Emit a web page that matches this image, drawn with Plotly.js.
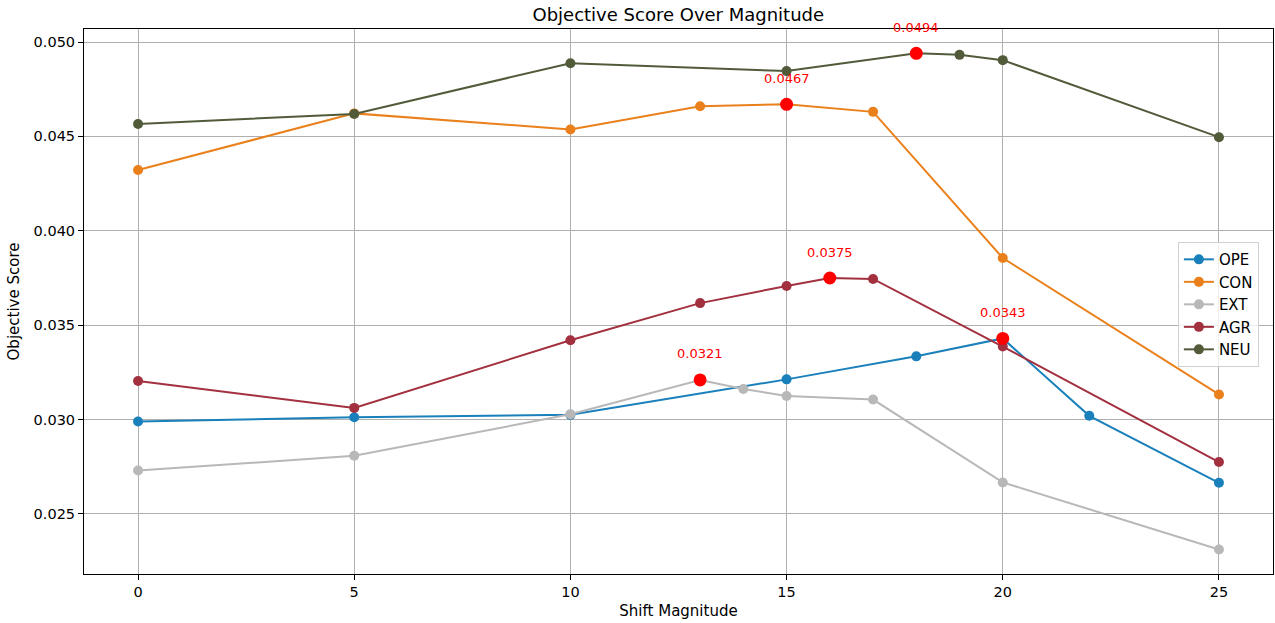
<!DOCTYPE html>
<html>
<head>
<meta charset="utf-8">
<script src="https://cdn.plot.ly/plotly-3.0.1.min.js"></script>
<style>html,body{margin:0;padding:0;background:#fff;}#chart{width:1275px;height:623px;}</style>
</head>
<body>
<div id="chart"></div>
<script>
// Data
const seriesNames = ["OPE", "CON", "EXT", "AGR", "NEU"];
const opeX = [0, 5, 10, 15, 18, 20, 22, 25];
const opeY = [0.02990, 0.03012, 0.03025, 0.03213, 0.03335, 0.03430, 0.03020, 0.02665];
const conX = [0, 5, 10, 13, 15, 17, 20, 25];
const conY = [0.04322, 0.04622, 0.04537, 0.04660, 0.04670, 0.04630, 0.03856, 0.03133];
const extX = [0, 5, 10, 13, 14, 15, 17, 20, 25];
const extY = [0.02730, 0.02808, 0.03028, 0.03210, 0.03162, 0.03125, 0.03106, 0.02667, 0.02312];
const agrX = [0, 5, 10, 13, 15, 16, 17, 20, 25];
const agrY = [0.03204, 0.03062, 0.03420, 0.03617, 0.03708, 0.03750, 0.03745, 0.03387, 0.02775];
const neuX = [0, 5, 10, 15, 18, 19, 20, 25];
const neuY = [0.04566, 0.04619, 0.04888, 0.04846, 0.04940, 0.04932, 0.04904, 0.04496];
const colors = ["#1a80bb", "#ea801c", "#b8b8b8", "#a2303f", "#515b3a"];

const xs = [opeX, conX, extX, agrX, neuX];
const ys = [opeY, conY, extY, agrY, neuY];

const traces = [];
const hx = [], hy = [], annotations = [];
for (let i = 0; i < seriesNames.length; i++) {
  traces.push({
    x: xs[i], y: ys[i], name: seriesNames[i], type: "scatter", mode: "lines+markers",
    line: {color: colors[i], width: 2},
    marker: {color: colors[i], size: 10}
  });
  let k = 0;
  for (let j = 1; j < ys[i].length; j++) if (ys[i][j] > ys[i][k]) k = j;
  hx.push(xs[i][k]); hy.push(ys[i][k]);
  annotations.push({
    x: xs[i][k], y: ys[i][k], xref: "x", yref: "y", text: ys[i][k].toFixed(4),
    showarrow: false, yshift: 26, font: {family: "DejaVu Sans", size: 13, color: "red"}
  });
}
traces.push({
  x: hx, y: hy, type: "scatter", mode: "markers", showlegend: false, hoverinfo: "skip",
  marker: {color: "red", size: 13}
});

const layout = {
  width: 1275, height: 623,
  margin: {l: 84, r: 2, t: 29, b: 49},
  paper_bgcolor: "#fff", plot_bgcolor: "#fff",
  font: {family: "DejaVu Sans", size: 15, color: "#000"},
  title: {text: "Objective Score Over Magnitude", font: {size: 18, color: "#000"}, x: 0.532, xanchor: "center", y: 0.977, yanchor: "middle"},
  xaxis: {
    range: [-1.25, 26.25], tickvals: [0, 5, 10, 15, 20, 25], ticktext: ["0", "5", "10", "15", "20", "25"],
    showgrid: true, gridcolor: "#b0b0b0", gridwidth: 1, zeroline: false,
    showline: true, linecolor: "#000", linewidth: 1, mirror: true,
    ticks: "outside", ticklen: 5, tickcolor: "#000", tickfont: {size: 14.5},
    title: {text: "Shift Magnitude", font: {size: 15}, standoff: 6}
  },
  yaxis: {
    range: [0.02182, 0.05069], tickvals: [0.025, 0.030, 0.035, 0.040, 0.045, 0.050],
    ticktext: ["0.025", "0.030", "0.035", "0.040", "0.045", "0.050"],
    showgrid: true, gridcolor: "#b0b0b0", gridwidth: 1, zeroline: false,
    showline: true, linecolor: "#000", linewidth: 1, mirror: true,
    ticks: "outside", ticklen: 5, tickcolor: "#000", tickfont: {size: 14.5},
    title: {text: "Objective Score", font: {size: 15}, standoff: 10}
  },
  legend: {
    x: 0.92, y: 0.609, xanchor: "left", yanchor: "top",
    bgcolor: "rgba(255,255,255,0.8)", bordercolor: "#d0d0d0", borderwidth: 1,
    font: {size: 15}, itemwidth: 30, tracegroupgap: 0
  },
  annotations: annotations,
  showlegend: true
};

Plotly.newPlot("chart", traces, layout, {displayModeBar: false, staticPlot: true});
</script>
</body>
</html>
